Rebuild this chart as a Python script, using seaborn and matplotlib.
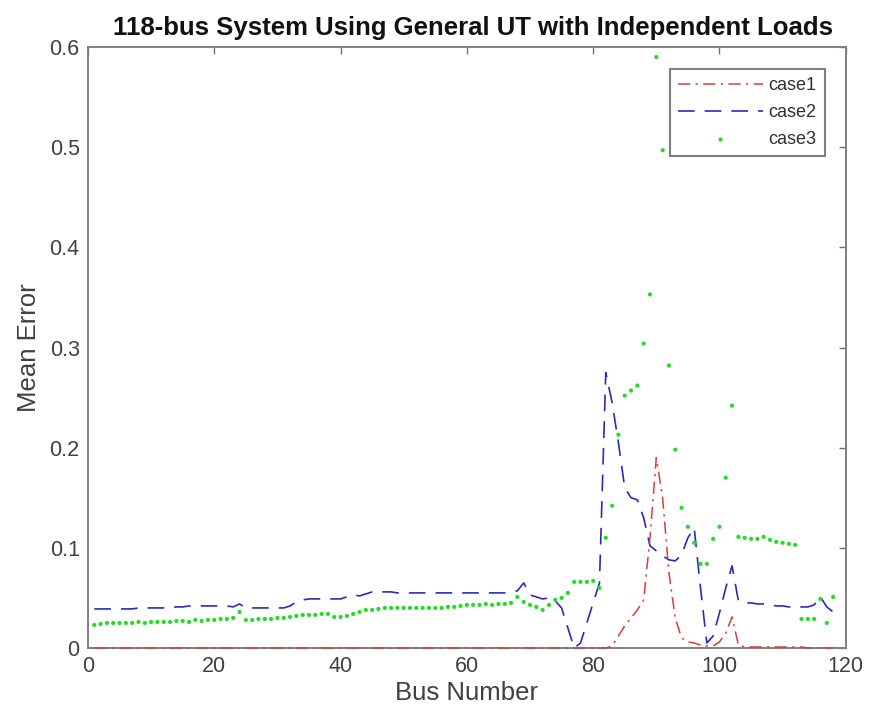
import numpy as np
import pandas as pd
import seaborn as sns
import matplotlib
matplotlib.use("Agg")
import matplotlib.pyplot as plt
from matplotlib.ticker import FuncFormatter

bus = list(range(1, 119))

case1 = [0.0] * 82 + [
    0.002, 0.012, 0.022, 0.030, 0.038, 0.048, 0.110, 0.190,   # 83-90
    0.150, 0.075, 0.030, 0.010, 0.006, 0.005, 0.003, 0.002,   # 91-98
    0.002, 0.006, 0.015, 0.031, 0.003,                        # 99-103
    0.001, 0.001, 0.001, 0.001, 0.001, 0.001, 0.001, 0.001,   # 104-111
    0.001, 0.001, 0.0, 0.0, 0.0, 0.0, 0.0]                    # 112-118

case2 = [
    0.039, 0.039, 0.039, 0.039, 0.039, 0.039, 0.039, 0.040, 0.040, 0.040,
    0.040, 0.040, 0.040, 0.041, 0.041, 0.042, 0.042, 0.042, 0.042, 0.042,
    0.042, 0.042, 0.041, 0.044, 0.040, 0.040, 0.040, 0.040, 0.040, 0.040,
    0.040, 0.042, 0.046, 0.048, 0.049, 0.049, 0.049, 0.049, 0.049, 0.049,
    0.051, 0.053, 0.052, 0.054, 0.056, 0.056, 0.056, 0.056, 0.055, 0.055,
    0.055, 0.055, 0.055, 0.055, 0.055, 0.055, 0.055, 0.055, 0.055, 0.055,
    0.055, 0.055, 0.055, 0.055, 0.055, 0.055, 0.056, 0.057, 0.065, 0.053,
    0.051, 0.049, 0.050, 0.047, 0.040, 0.020, 0.000, 0.005, 0.025, 0.045,
    0.065, 0.275, 0.245, 0.205, 0.160, 0.150, 0.148, 0.130, 0.102, 0.097,
    0.092, 0.088, 0.087, 0.093, 0.110, 0.120, 0.060, 0.005, 0.012, 0.035,
    0.060, 0.082, 0.047, 0.045, 0.045, 0.044, 0.044, 0.043, 0.042, 0.042,
    0.041, 0.041, 0.041, 0.041, 0.043, 0.051, 0.041, 0.036]

case3 = [
    0.023, 0.024, 0.025, 0.025, 0.025, 0.025, 0.025, 0.026, 0.025, 0.026,
    0.026, 0.026, 0.026, 0.027, 0.027, 0.026, 0.028, 0.027, 0.028, 0.028,
    0.029, 0.029, 0.030, 0.036, 0.028, 0.028, 0.029, 0.029, 0.029, 0.030,
    0.030, 0.031, 0.032, 0.033, 0.033, 0.033, 0.034, 0.034, 0.031, 0.031,
    0.032, 0.034, 0.036, 0.038, 0.038, 0.039, 0.040, 0.040, 0.040, 0.040,
    0.040, 0.040, 0.040, 0.040, 0.040, 0.040, 0.041, 0.041, 0.042, 0.043,
    0.043, 0.043, 0.044, 0.043, 0.044, 0.044, 0.045, 0.051, 0.046, 0.043,
    0.041, 0.038, 0.043, 0.048, 0.050, 0.055, 0.066, 0.066, 0.066, 0.067,
    0.060, 0.110, 0.142, 0.213, 0.252, 0.257, 0.262, 0.304, 0.353, 0.590,
    0.497, 0.282, 0.198, 0.140, 0.121, 0.105, 0.084, 0.084, 0.109, 0.121,
    0.170, 0.242, 0.111, 0.110, 0.109, 0.109, 0.111, 0.108, 0.106, 0.105,
    0.104, 0.103, 0.029, 0.029, 0.029, 0.049, 0.025, 0.051]

labels = ["case1", "case2", "case3"]
x_ticks = [0, 20, 40, 60, 80, 100, 120]
y_ticks = [0, 0.1, 0.2, 0.3, 0.4, 0.5, 0.6]

sns.set_style("white")
plt.rcParams["font.family"] = ["Liberation Sans", "DejaVu Sans"]

fig = plt.figure(figsize=(8.71, 7.18), dpi=100)
ax = fig.add_axes([0.101, 0.0975, 0.870, 0.837])

sns.lineplot(x=bus, y=case1, ax=ax, color="#e03a3a", linewidth=1.1,
             label=labels[0])
sns.lineplot(x=bus, y=case2, ax=ax, color="#2a2ac0", linewidth=1.2,
             label=labels[1])
sns.scatterplot(x=bus, y=case3, ax=ax, color="#22dd22", s=9,
                edgecolor="none", marker="o", label=labels[2], zorder=5)

lines = ax.get_lines()
lines[0].set_dashes([8, 3.5, 1.5, 3.5])
lines[0].set_zorder(3)
lines[0].set_clip_on(False)
lines[1].set_dashes([10, 6])

ax.set_xlim(0, 120)
ax.set_ylim(0, 0.6)
ax.set_xticks(x_ticks)
ax.set_yticks(y_ticks)
ax.yaxis.set_major_formatter(FuncFormatter(lambda v, p: "0" if v == 0 else f"{v:g}"))

ax.tick_params(direction="in", length=5, width=1, colors="#707070",
               labelcolor="#404040", labelsize=15.5, top=True, right=True,
               pad=6)
for s in ax.spines.values():
    s.set_color("#808080")
    s.set_linewidth(1.4)

ax.set_xlabel("Bus Number", fontsize=18.5, color="#404040", labelpad=3)
ax.set_ylabel("Mean Error", fontsize=18.5, color="#404040", labelpad=6)
ax.set_title("118-bus System Using General UT with Independent Loads",
             fontsize=18.5, fontweight="bold", color="#111111", pad=9,
             x=0.508)

leg = ax.legend(loc="upper right", bbox_to_anchor=(0.972, 0.963),
                borderaxespad=0, fontsize=13, frameon=True, fancybox=False,
                handlelength=4.7, handletextpad=0.3, labelspacing=0.55,
                borderpad=0.45, markerscale=1.0, scatterpoints=1)
leg.get_frame().set_edgecolor("#606060")
leg.get_frame().set_linewidth(1.5)
leg.set_zorder(4)
for t in leg.get_texts():
    t.set_color("#303030")

fig.savefig("out.png", dpi=100)
